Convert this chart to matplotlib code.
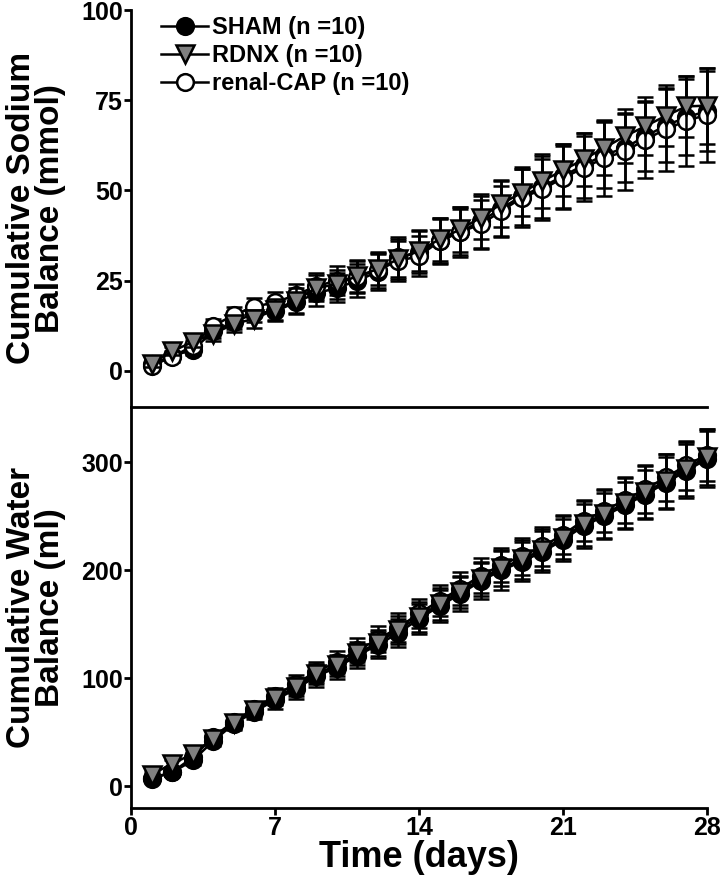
import matplotlib
matplotlib.use("Agg")
import matplotlib.pyplot as plt
from matplotlib.lines import Line2D
import numpy as np

plt.rcParams['font.family'] = ['Liberation Sans', 'DejaVu Sans']
plt.rcParams['font.weight'] = 'bold'

days = np.arange(1, 29)

# Cumulative sodium balance (mmol), mean and SEM
sodium_sham = [1.8, 4.2, 5.8, 11.0, 13.5, 16.0, 16.5, 19.0, 21.5, 23.0, 25.0, 27.5, 31.5, 33.0,
               36.0, 38.5, 41.5, 45.0, 48.5, 51.0, 54.0, 57.0, 59.8, 61.8, 65.0, 68.0, 70.3, 72.0]
sodium_rdnx = [2.0, 5.5, 8.0, 10.3, 13.0, 14.5, 17.0, 19.5, 23.0, 24.0, 26.3, 28.2, 31.0, 33.2,
               36.5, 39.2, 42.5, 46.3, 49.4, 52.6, 55.6, 58.6, 61.8, 65.0, 67.8, 70.7, 73.3, 73.5]
sodium_cap = [1.5, 3.8, 7.0, 12.5, 15.5, 17.8, 19.0, 21.0, 23.5, 25.0, 26.0, 28.0, 30.5, 31.8,
              36.0, 38.5, 40.6, 44.3, 48.0, 50.3, 53.5, 56.2, 59.0, 60.8, 64.1, 67.0, 69.3, 71.0]
sodium_sham_err = [1.0, 1.2, 1.5, 1.8, 2.0, 2.4, 2.8, 3.2, 3.5, 4.0, 4.5, 5.0, 5.5, 6.0,
                   6.5, 6.8, 7.5, 8.0, 8.0, 8.5, 8.8, 9.0, 9.2, 9.5, 9.5, 10.0, 10.5, 11.0]
sodium_rdnx_err = [1.0, 1.2, 1.5, 2.0, 2.2, 2.5, 3.0, 3.5, 3.5, 4.0, 4.3, 4.5, 5.5, 5.5,
                   6.0, 6.3, 6.0, 6.3, 6.5, 7.5, 7.2, 7.4, 7.5, 7.5, 8.0, 8.5, 8.5, 10.5]
sodium_cap_err = [1.0, 1.2, 1.5, 2.0, 2.2, 2.5, 2.8, 3.0, 3.5, 4.0, 4.5, 5.0, 5.5, 5.6,
                  6.0, 6.5, 6.8, 7.0, 8.0, 8.5, 8.7, 9.0, 10.5, 10.8, 10.6, 11.5, 12.5, 13.0]

# Cumulative water balance (ml), mean and SEM
water_sham = [7, 13, 24, 42, 58, 69, 80, 90, 102, 110, 121, 131, 142, 155,
              167, 178, 190, 200, 208, 217, 228, 241, 250, 260, 270, 281, 292, 303]
water_rdnx = [11, 21, 30, 44, 59, 71, 82, 92, 104, 112, 123, 133, 145, 157,
              169, 180, 192, 202, 210, 219, 230, 243, 252, 262, 272, 283, 294, 305]
water_cap = [8, 13, 27, 46, 60, 72, 84, 95, 106, 115, 126, 136, 147, 160,
             172, 183, 195, 205, 213, 222, 233, 246, 255, 265, 275, 286, 297, 307]
water_sham_err = [2, 3, 4, 5, 6, 7, 8, 9, 10, 11, 11, 12, 13, 14,
                  15, 16, 17, 18, 18, 19, 19, 20, 21, 22, 23, 24, 25, 26]
water_rdnx_err = [2, 3, 4, 5, 6, 7, 7, 8, 9, 10, 11, 12, 13, 14,
                  15, 15, 16, 17, 18, 19, 20, 21, 22, 23, 24, 25, 25, 26]
water_cap_err = [2, 3, 4, 4, 5, 6, 7, 8, 9, 10, 11, 12, 13, 13,
                 14, 15, 16, 16, 17, 18, 18, 19, 20, 21, 22, 22, 23, 24]

styles = {
    'sham': dict(marker='o', mfc='black', mec='black', ms=12),
    'rdnx': dict(marker='v', mfc='#808080', mec='black', ms=13),
    'cap': dict(marker='o', mfc='white', mec='black', ms=12),
}
labels = {'sham': 'SHAM (n =10)', 'rdnx': 'RDNX (n =10)', 'cap': 'renal-CAP (n =10)'}


def draw(ax, key, y, err, z):
    ax.errorbar(days, y, yerr=err, color='black', lw=1.8, elinewidth=1.8,
                capsize=6, capthick=2.5, mew=1.8, zorder=z, clip_on=False,
                **styles[key])


fig = plt.figure(figsize=(7.2, 8.86), dpi=100)
ax1 = fig.add_axes([0.182, 0.5406, 0.8, 0.4481])
ax2 = fig.add_axes([0.182, 0.088, 0.8, 0.4526])

# top panel: sodium
draw(ax1, 'sham', sodium_sham, sodium_sham_err, 3)
draw(ax1, 'cap', sodium_cap, sodium_cap_err, 4)
draw(ax1, 'rdnx', sodium_rdnx, sodium_rdnx_err, 5)
ax1.set_xlim(0, 28)
ax1.set_ylim(-10, 100)
ax1.set_yticks([0, 25, 50, 75, 100])
ax1.set_xticks([])
ax1.spines['top'].set_visible(False)
ax1.spines['right'].set_visible(False)

# bottom panel: water
draw(ax2, 'cap', water_cap, water_cap_err, 3)
draw(ax2, 'sham', water_sham, water_sham_err, 4)
draw(ax2, 'rdnx', water_rdnx, water_rdnx_err, 5)
ax2.set_xlim(0, 28)
ax2.set_ylim(-20, 351)
ax2.set_yticks([0, 100, 200, 300])
ax2.set_xticks([0, 7, 14, 21, 28])
ax2.spines['top'].set_visible(False)
ax2.spines['right'].set_visible(False)
ax2.set_xlabel('Time (days)', fontsize=26, fontweight='bold', labelpad=0)

for ax in (ax1, ax2):
    for s in ('left', 'bottom'):
        ax.spines[s].set_linewidth(2)
    ax.tick_params(width=2, length=5, labelsize=18, pad=1)
    ax.patch.set_visible(False)

fig.text(0.05, 0.765, 'Cumulative Sodium\nBalance (mmol)', rotation=90,
         ha='center', va='center', fontsize=24, fontweight='bold', linespacing=0.95)
fig.text(0.05, 0.314, 'Cumulative Water\nBalance (ml)', rotation=90,
         ha='center', va='center', fontsize=24, fontweight='bold', linespacing=0.95)

handles = [Line2D([], [], color='black', lw=1.8, mew=1.8, **styles[k]) for k in ('sham', 'rdnx', 'cap')]
ax1.legend(handles, [labels[k] for k in ('sham', 'rdnx', 'cap')], loc='upper left',
           bbox_to_anchor=(0.052, 0.985), frameon=False, fontsize=17, handlelength=2.0,
           handletextpad=0.15, labelspacing=0.22, borderaxespad=0, borderpad=0)

fig.savefig('out.png', dpi=100)
